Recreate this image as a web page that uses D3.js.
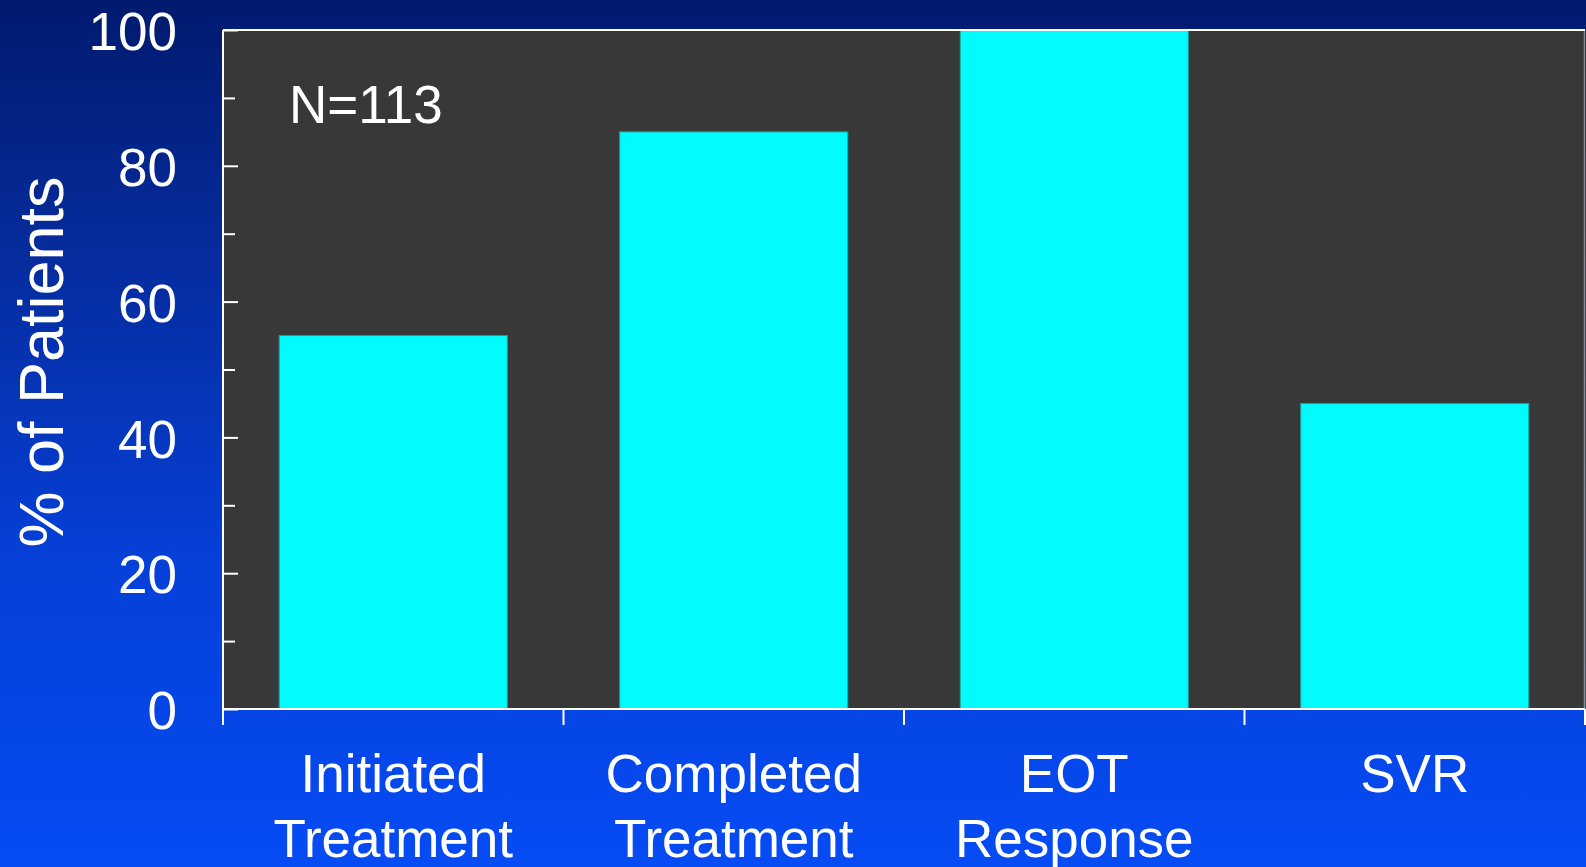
<!DOCTYPE html>
<html>
<head>
<meta charset="utf-8">
<script src="https://cdn.jsdelivr.net/npm/d3@7"></script>
<style>
  html, body { margin: 0; padding: 0; background: #0546ee; }
  svg { display: block; }
  text { font-family: "Liberation Sans", Arial, sans-serif; fill: #ffffff; }
</style>
</head>
<body>
<svg id="chart" width="1586" height="867"></svg>
<script>
// Treatment outcomes, % of patients (N=113)
const categories = [
  ["Initiated", "Treatment"],
  ["Completed", "Treatment"],
  ["EOT", "Response"],
  ["SVR"]
];
const values = [55, 85, 100, 45];
const majorTicks = [0, 20, 40, 60, 80, 100];
const minorTicks = [10, 30, 50, 70, 90];
const yTitle = "% of Patients";
const note = "N=113";

const W = 1586, H = 867;
const plot = { left: 223, right: 1585, top: 30, bottom: 709 };

const svg = d3.select("#chart");

// Background: vertical navy-to-blue gradient
const defs = svg.append("defs");
const grad = defs.append("linearGradient")
  .attr("id", "bg").attr("x1", 0).attr("y1", 0).attr("x2", 0).attr("y2", 1);
[["0%", "#001a6e"], ["30%", "#062c9e"], ["65%", "#0540d8"], ["100%", "#064bf4"]]
  .forEach(([o, c]) => grad.append("stop").attr("offset", o).attr("stop-color", c));
svg.append("rect").attr("width", W).attr("height", H).attr("fill", "url(#bg)");

const keys = categories.map(c => c.join(" "));
const x = d3.scaleBand()
  .domain(keys)
  .range([plot.left, plot.right])
  .paddingInner(0.33)
  .paddingOuter(0.165);

const y = d3.scaleLinear().domain([0, 100]).range([plot.bottom, plot.top]);

// Plot area
svg.append("rect")
  .attr("x", plot.left).attr("y", plot.top)
  .attr("width", plot.right - plot.left).attr("height", plot.bottom - plot.top)
  .attr("fill", "#383838");

// Right border
svg.append("line")
  .attr("x1", plot.right - 0.5).attr("x2", plot.right - 0.5)
  .attr("y1", plot.top).attr("y2", plot.bottom)
  .attr("stroke", "#8a8a8a").attr("stroke-width", 1.5);

// Bars
svg.append("g").selectAll("rect")
  .data(values)
  .join("rect")
  .attr("x", (d, i) => x(keys[i]))
  .attr("y", d => y(d))
  .attr("width", x.bandwidth())
  .attr("height", d => y(0) - y(d))
  .attr("fill", "#00fcfc")
  .attr("stroke", "#1f9a9a")
  .attr("stroke-width", 1);

// Top border
svg.append("line")
  .attr("x1", plot.left).attr("x2", plot.right)
  .attr("y1", plot.top).attr("y2", plot.top)
  .attr("stroke", "#ffffff").attr("stroke-width", 2);

// Y axis: major ticks with labels, minor ticks without, both pointing inward
const yMajor = svg.append("g")
  .attr("transform", `translate(${plot.left},0)`)
  .call(d3.axisLeft(y).tickValues(majorTicks).tickSize(-15).tickPadding(46).tickFormat(d3.format("d")));
const yMinor = svg.append("g")
  .attr("transform", `translate(${plot.left},0)`)
  .call(d3.axisLeft(y).tickValues(minorTicks).tickSize(-12).tickFormat(""));
[yMajor, yMinor].forEach(g => {
  g.select(".domain").remove();
  g.selectAll(".tick line").attr("stroke", "#ffffff").attr("stroke-width", 2);
});
yMajor.selectAll(".tick text")
  .attr("dy", "0.37em")
  .style("font-size", "53px")
  .style("font-family", "\"Liberation Sans\", Arial, sans-serif")
  .attr("fill", "#ffffff");

// Axis lines
svg.append("line")
  .attr("x1", plot.left).attr("x2", plot.left)
  .attr("y1", plot.top).attr("y2", plot.bottom + 16)
  .attr("stroke", "#ffffff").attr("stroke-width", 2);
svg.append("line")
  .attr("x1", plot.left).attr("x2", plot.right)
  .attr("y1", plot.bottom).attr("y2", plot.bottom)
  .attr("stroke", "#ffffff").attr("stroke-width", 2);

// X axis: ticks at category boundaries
const step = x.step();
const bounds = d3.range(keys.length + 1).map(i => plot.left + i * step);
svg.append("g").selectAll("line")
  .data(bounds)
  .join("line")
  .attr("x1", d => d).attr("x2", d => d)
  .attr("y1", plot.bottom).attr("y2", plot.bottom + 16)
  .attr("stroke", "#ffffff").attr("stroke-width", 2);

// Category labels (two lines)
const lbl = svg.append("g").selectAll("text")
  .data(categories)
  .join("text")
  .attr("text-anchor", "middle")
  .style("font-size", "53px")
  .attr("transform", (d, i) => `translate(${x(keys[i]) + x.bandwidth() / 2},792)`);
lbl.selectAll("tspan")
  .data(d => d)
  .join("tspan")
  .attr("x", 0)
  .attr("dy", (d, i) => i === 0 ? 0 : 65)
  .text(d => d);

// Y axis title
svg.append("text")
  .attr("text-anchor", "middle")
  .attr("transform", "translate(63,362) rotate(-90)")
  .style("font-size", "63px")
  .text(yTitle);

// Sample size note
svg.append("text")
  .attr("x", 289).attr("y", 123)
  .style("font-size", "53px")
  .text(note);
</script>
</body>
</html>
